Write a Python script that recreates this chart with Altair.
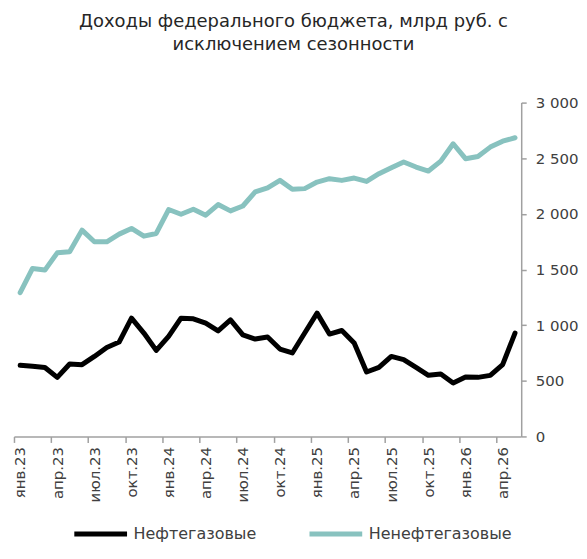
import json
import altair as alt
import pandas as pd

# Monthly labels (Jan 2023 – May 2026)
month_names = ["янв", "фев", "мар", "апр", "май", "июн", "июл", "авг", "сен", "окт", "ноя", "дек"]
months = [f"{month_names[m % 12]}.{23 + m // 12}" for m in range(41)]

# Axis tick labels (every quarter)
tick_labels = ["янв.23", "апр.23", "июл.23", "окт.23", "янв.24", "апр.24", "июл.24",
               "окт.24", "янв.25", "апр.25", "июл.25", "окт.25", "янв.26", "апр.26"]

# Series (млрд руб., с исключением сезонности)
oil_gas = [640, 630, 620, 531, 651, 645, 719, 800, 848, 1063,
           929, 773, 900, 1063, 1057, 1018, 949, 1048, 913, 875,
           893, 785, 750, 929, 1108, 920, 952, 839, 579, 621,
           719, 690, 621, 549, 561, 481, 535, 531, 549, 645, 929]
non_oil_gas = [1292, 1510, 1495, 1650, 1660, 1854, 1749, 1749, 1818, 1869,
               1800, 1824, 2039, 1997, 2042, 1988, 2084, 2027, 2071, 2197,
               2233, 2301, 2221, 2227, 2286, 2316, 2301, 2322, 2292, 2361,
               2415, 2466, 2421, 2385, 2474, 2630, 2496, 2516, 2600, 2653, 2684]

series_names = ["Нефтегазовые", "Ненефтегазовые"]
series_colors = ["#000000", "#88C2BF"]

rows = []
for name, vals in zip(series_names, [oil_gas, non_oil_gas]):
    for i, (m, v) in enumerate(zip(months, vals)):
        rows.append({"i": i, "month": m, "series": name, "value": v})
df = pd.DataFrame(rows)

FONT = "DejaVu Sans"
TXT = "#404040"
AX = "#A0A0A0"

label_expr = json.dumps(tick_labels, ensure_ascii=False) + "[round((datum.value + 0.5) / 3)]"

chart = alt.Chart(df).mark_line(strokeWidth=5, strokeCap="round", strokeJoin="round").encode(
    x=alt.X("i:Q",
            scale=alt.Scale(domain=[-0.5, 40.5], nice=False, zero=False),
            axis=alt.Axis(values=[-0.5 + 3 * k for k in range(14)],
                          labelExpr=label_expr, labelAngle=270, labelOffset=6,
                          labelAlign="right", labelBaseline="middle",
                          labelFont=FONT, labelFontSize=15, labelColor=TXT,
                          labelPadding=4, tickSize=6, tickColor=AX, tickWidth=1.5,
                          domainColor=AX, domainWidth=1.5, grid=False, title=None,
                          labelOverlap=False)),
    y=alt.Y("value:Q",
            scale=alt.Scale(domain=[0, 3000], nice=False),
            axis=alt.Axis(orient="right", values=[0, 500, 1000, 1500, 2000, 2500, 3000],
                          labelExpr="replace(format(datum.value, ','), ',', ' ')",
                          labelFont=FONT, labelFontSize=15, labelColor=TXT,
                          labelAlign="left", labelPadding=9, tickSize=5,
                          tickColor=AX, tickWidth=1.5, domainColor=AX, domainWidth=1.5,
                          grid=False, title=None)),
    color=alt.Color("series:N",
                    scale=alt.Scale(domain=series_names, range=series_colors),
                    legend=alt.Legend(orient="none", direction="horizontal",
                                      legendX=58, legendY=404, title=None,
                                      symbolType="stroke", symbolSize=2800,
                                      symbolStrokeWidth=5, labelFont=FONT,
                                      labelFontSize=16, labelColor=TXT,
                                      labelOffset=4, columnPadding=42,
                                      labelLimit=300)),
    order="i:Q",
).properties(
    width=509, height=335,
    title=alt.TitleParams(
        text=["Доходы федерального бюджета, млрд руб. с", "исключением сезонности"],
        font=FONT, fontSize=18, fontWeight="normal", color="#262626",
        lineHeight=23, anchor="middle", dx=26, offset=42),
    autosize=alt.AutoSizeParams(type="none"),
    padding={"left": 6, "top": 94, "right": 58, "bottom": 106},
).configure_view(stroke=None)

chart.save("out.html", embed_options={"renderer": "svg", "actions": False})
